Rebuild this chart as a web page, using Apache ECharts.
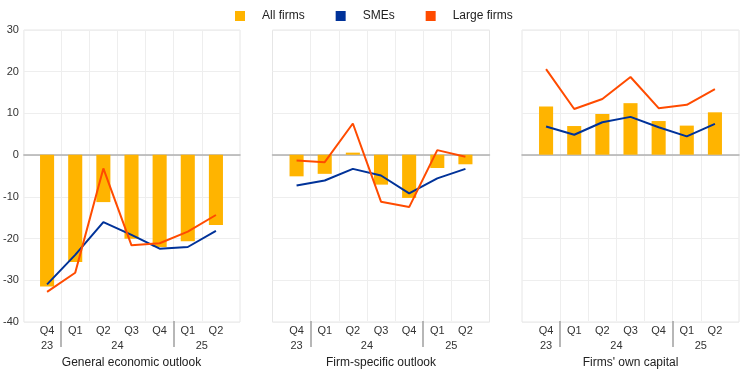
<!DOCTYPE html>
<html>
<head>
<meta charset="utf-8">
<script src="https://cdn.jsdelivr.net/npm/echarts@6/dist/echarts.min.js"></script>
<style>
html,body{margin:0;padding:0;background:#fff;}
#main{width:744px;height:374px;}
</style>
</head>
<body>
<div id="main"></div>
<script>
// ---- data ----
const quarters = ['Q4', 'Q1', 'Q2', 'Q3', 'Q4', 'Q1', 'Q2'];
const yearLabelPos = [0.5, 3, 6];
const yearLabels = ['23', '24', '25'];
const yearBreaks = [1, 5];
const panelTitles = ['General economic outlook', 'Firm-specific outlook', "Firms' own capital"];
const seriesNames = ['All firms', 'SMEs', 'Large firms'];

const generalAll   = [-31.7, -25.8, -11.4, -20.2, -22.2, -20.8, -16.9];
const generalSME   = [-31.2, -24.1, -16.2, -19.3, -22.6, -22.2, -18.3];
const generalLarge = [-33.0, -28.4, -3.3, -21.8, -21.3, -18.5, -14.5];

const firmAll   = [-5.2, -4.6, 0.5, -7.2, -10.4, -3.2, -2.3];
const firmSME   = [-7.4, -6.2, -3.4, -5.0, -9.3, -5.7, -3.4];
const firmLarge = [-1.4, -1.8, 7.5, -11.3, -12.6, 1.1, -0.5];

const capitalAll   = [11.6, 6.9, 9.8, 12.4, 8.1, 7.0, 10.2];
const capitalSME   = [6.8, 4.8, 7.8, 9.1, 6.6, 4.4, 7.4];
const capitalLarge = [20.6, 11.0, 13.4, 18.7, 11.2, 12.0, 15.8];

const yMin = -40, yMax = 30, yStep = 10;

// ---- build ----
const panels = [
  [generalAll, generalSME, generalLarge],
  [firmAll, firmSME, firmLarge],
  [capitalAll, capitalSME, capitalLarge]
];
const colors = ['#FFB400', '#003299', '#FF4B00'];
const outerLefts = [23, 272.5, 522];
const gridTop = 30, gridHeight = 292, outerWidth = 217, pad = 10;
const font = 'Arial, "Liberation Sans", sans-serif';

const grid = [], xAxis = [], yAxis = [], series = [];
panels.forEach((p, k) => {
  const og = grid.length;
  grid.push({ left: outerLefts[k], top: gridTop, width: outerWidth, height: gridHeight,
    show: true, borderColor: '#e6e6e6', borderWidth: 1, backgroundColor: 'transparent' });
  const ig = grid.length;
  grid.push({ left: outerLefts[k] + pad, top: gridTop, width: outerWidth - 2 * pad, height: gridHeight });

  // outer axes
  xAxis.push({ gridIndex: og, type: 'value', min: 0, max: 1,
    axisLine: { show: true, onZero: true, lineStyle: { color: '#b0b0b0', width: 1.5 } },
    axisTick: { show: false }, axisLabel: { show: false }, splitLine: { show: false } });
  yAxis.push({ gridIndex: og, type: 'value', min: yMin, max: yMax, interval: yStep,
    axisLine: { show: false }, axisTick: { show: false },
    axisLabel: { show: k === 0, margin: 5, color: '#333', fontSize: 11, fontFamily: font },
    splitLine: { show: true, lineStyle: { color: '#eeeeee', width: 1 } } });

  // inner axes
  const ixi = xAxis.length;
  xAxis.push({ gridIndex: ig, type: 'category', data: quarters, position: 'bottom',
    boundaryGap: true,
    axisLine: { show: false, onZero: false },
    axisTick: { show: false },
    axisLabel: { margin: 4, color: '#333', fontSize: 11, fontFamily: font, interval: 0 },
    splitLine: { show: true, showMinLine: false, showMaxLine: false, interval: 0,
      lineStyle: { color: '#eeeeee', width: 1 } } });
  // year labels + panel title
  xAxis.push({ gridIndex: ig, type: 'value', min: 0, max: 7, position: 'bottom',
    offset: 16,
    axisLine: { show: false, onZero: false }, axisTick: { show: false }, splitLine: { show: false },
    axisLabel: { margin: 3, color: '#333', fontSize: 11, fontFamily: font,
      customValues: yearLabelPos,
      formatter: (v) => yearLabels[yearLabelPos.indexOf(v)] || '' },
    name: panelTitles[k], nameLocation: 'middle', nameGap: 20,
    nameTextStyle: { color: '#222', fontSize: 12, fontFamily: font } });
  // year separators
  xAxis.push({ gridIndex: ig, type: 'value', min: 0, max: 7, position: 'bottom',
    axisLine: { show: false, onZero: false }, splitLine: { show: false },
    axisLabel: { show: false },
    axisTick: { show: true, length: 26, customValues: yearBreaks,
      lineStyle: { color: '#a0a0a0', width: 1.5 } } });
  const iyi = yAxis.length;
  yAxis.push({ gridIndex: ig, type: 'value', min: yMin, max: yMax, interval: yStep, show: false });

  series.push({ name: seriesNames[0], type: 'bar', xAxisIndex: ixi, yAxisIndex: iyi,
    data: p[0], barWidth: '50%', itemStyle: { color: colors[0] } });
  series.push({ name: seriesNames[1], type: 'line', xAxisIndex: ixi, yAxisIndex: iyi,
    data: p[1], symbol: 'none', lineStyle: { color: colors[1], width: 2 }, itemStyle: { color: colors[1] } });
  series.push({ name: seriesNames[2], type: 'line', xAxisIndex: ixi, yAxisIndex: iyi,
    data: p[2], symbol: 'none', lineStyle: { color: colors[2], width: 2 }, itemStyle: { color: colors[2] } });
});

const chart = echarts.init(document.getElementById('main'), null, { renderer: 'canvas' });
chart.setOption({
  animation: false,
  backgroundColor: '#fff',
  legend: {
    data: seriesNames.map((n, i) => ({ name: n, icon: 'rect', itemStyle: { color: colors[i] } })),
    left: 235, top: 10, padding: 0, itemWidth: 10, itemHeight: 10, itemGap: 31,
    textStyle: { color: '#222', fontSize: 12, fontFamily: font, padding: [0, 0, 0, 12] }
  },
  grid, xAxis, yAxis, series
});
</script>
</body>
</html>
